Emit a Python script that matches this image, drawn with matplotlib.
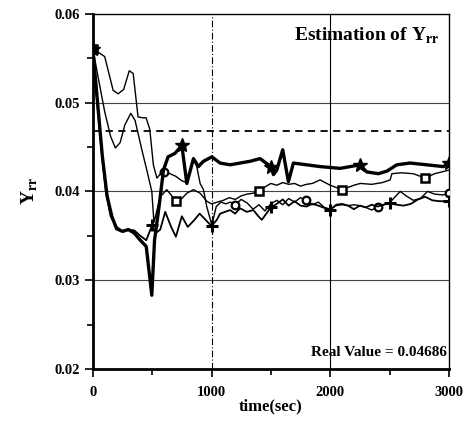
import matplotlib
matplotlib.use('Agg')
import matplotlib.pyplot as plt
from matplotlib.ticker import MultipleLocator

plt.rcParams['font.family'] = ['Liberation Serif', 'DejaVu Serif']
plt.rcParams['mathtext.fontset'] = 'custom'
plt.rcParams['mathtext.rm'] = 'Liberation Serif'
plt.rcParams['mathtext.bf'] = 'Liberation Serif:bold'

REAL_VALUE = 0.04686

# thick run with star markers
t_star = [0, 40, 80, 120, 160, 200, 250, 300, 350, 400, 450, 497, 520, 560, 595,
          634, 693, 750, 792, 848, 890, 932, 1003, 1072, 1157, 1241, 1326, 1409,
          1500, 1522, 1550, 1600, 1648, 1690, 1803, 1915, 2000, 2083, 2168, 2250,
          2308, 2406, 2480, 2561, 2673, 2814, 2954, 3000]
y_star = [0.0561, 0.0500, 0.0440, 0.0395, 0.0372, 0.0358, 0.0355, 0.0357, 0.0353,
          0.0345, 0.0338, 0.0283, 0.0345, 0.0385, 0.0424, 0.0439, 0.0443, 0.0452,
          0.0409, 0.0437, 0.0428, 0.0434, 0.0439, 0.0432, 0.0430, 0.0432, 0.0434,
          0.0437, 0.0428, 0.0419, 0.0424, 0.0447, 0.0411, 0.0432, 0.0430, 0.0428,
          0.0427, 0.0426, 0.0428, 0.0430, 0.0422, 0.0420, 0.0423, 0.0430, 0.0432,
          0.0430, 0.0428, 0.0432]
star_marks = [0, 750, 1500, 2250, 3000]

# run with plus markers
t_plus = [0, 30, 70, 110, 150, 200, 250, 300, 350, 400, 450, 500, 530, 568, 610,
          660, 700, 750, 800, 850, 900, 950, 1000, 1045, 1073, 1115, 1157, 1199,
          1241, 1297, 1353, 1395, 1424, 1500, 1550, 1600, 1650, 1700, 1750, 1800,
          1850, 1900, 2000, 2050, 2100, 2150, 2200, 2250, 2300, 2350, 2400, 2450,
          2500, 2560, 2620, 2680, 2740, 2800, 2860, 2920, 3000]
y_plus = [0.0561, 0.0510, 0.0450, 0.0400, 0.0372, 0.0360, 0.0355, 0.0357, 0.0356,
          0.0350, 0.0345, 0.0362, 0.0353, 0.0357, 0.0377, 0.0360, 0.0349, 0.0372,
          0.0360, 0.0367, 0.0375, 0.0368, 0.0361, 0.0368, 0.0375, 0.0377, 0.0379,
          0.0375, 0.0381, 0.0377, 0.0379, 0.0372, 0.0368, 0.0382, 0.0386, 0.0391,
          0.0384, 0.0389, 0.0384, 0.0383, 0.0386, 0.0384, 0.0379, 0.0385, 0.0386,
          0.0384, 0.0380, 0.0384, 0.0382, 0.0385, 0.0383, 0.0385, 0.0387, 0.0385,
          0.0384, 0.0386, 0.0391, 0.0394, 0.0390, 0.0389, 0.0389]
plus_marks = [500, 1000, 1500, 2000, 2500, 3000]

# run with square markers
t_sq = [0, 50, 100, 150, 190, 230, 270, 320, 356, 413, 455, 497, 515, 568, 623,
        660, 700, 750, 792, 848, 904, 960, 1000, 1050, 1100, 1150, 1200, 1250,
        1300, 1350, 1400, 1450, 1500, 1550, 1600, 1650, 1700, 1750, 1800, 1850,
        1915, 2000, 2100, 2200, 2253, 2350, 2440, 2505, 2520, 2600, 2700, 2800,
        2880, 3000]
y_sq = [0.0561, 0.0525, 0.0490, 0.0462, 0.0449, 0.0455, 0.0475, 0.0488, 0.0480,
        0.0447, 0.0424, 0.0400, 0.0365, 0.0394, 0.0402, 0.0396, 0.0389, 0.0392,
        0.0398, 0.0402, 0.0398, 0.0389, 0.0386, 0.0388, 0.0390, 0.0393, 0.0391,
        0.0395, 0.0397, 0.0398, 0.0400, 0.0405, 0.0409, 0.0407, 0.0410, 0.0408,
        0.0409, 0.0406, 0.0408, 0.0409, 0.0413, 0.0407, 0.0402, 0.0407, 0.0409,
        0.0408, 0.0410, 0.0413, 0.0420, 0.0421, 0.0420, 0.0415, 0.0420, 0.0424]
sq_marks = [0, 700, 1400, 2100, 2800]

# run with circle markers
t_circ = [0, 100, 171, 213, 260, 307, 340, 381, 420, 449, 480, 510, 540, 570, 600,
          650, 700, 750, 792, 848, 876, 904, 932, 960, 1003, 1040, 1080, 1120,
          1160, 1200, 1250, 1300, 1350, 1400, 1450, 1500, 1550, 1600, 1650, 1700,
          1750, 1800, 1850, 1900, 1950, 2000, 2050, 2100, 2150, 2200, 2250, 2300,
          2350, 2400, 2450, 2500, 2540, 2590, 2640, 2700, 2760, 2820, 2880, 2950,
          3000]
y_circ = [0.0561, 0.0552, 0.0514, 0.0510, 0.0515, 0.0536, 0.0533, 0.0484, 0.0483,
          0.0483, 0.0470, 0.0430, 0.0415, 0.0420, 0.0422, 0.0420, 0.0417, 0.0412,
          0.0410, 0.0437, 0.0428, 0.0409, 0.0402, 0.0383, 0.0362, 0.0383, 0.0388,
          0.0386, 0.0388, 0.0385, 0.0391, 0.0387, 0.0380, 0.0385, 0.0378, 0.0386,
          0.0390, 0.0385, 0.0392, 0.0388, 0.0393, 0.0390, 0.0385, 0.0388, 0.0382,
          0.0380, 0.0384, 0.0385, 0.0384, 0.0385, 0.0384, 0.0382, 0.0379, 0.0383,
          0.0385, 0.0387, 0.0393, 0.0400, 0.0395, 0.0390, 0.0392, 0.0400, 0.0397,
          0.0396, 0.0398]
circ_marks = [0, 600, 1200, 1800, 2400, 3000]

x_ticks = [0, 1000, 2000, 3000]
y_ticks = [0.02, 0.03, 0.04, 0.05, 0.06]
y_tick_labels = ['0.02', '0.03', '0.04', '0.05', '0.06']

fig = plt.figure(figsize=(4.76, 4.24), dpi=100)
ax = fig.add_axes([0.195, 0.130, 0.748, 0.837])

# reference grid
for y in [0.03, 0.04, 0.05]:
    ax.axhline(y, color='#444444', lw=0.8, zorder=1)
ax.axvline(1000, color='black', lw=0.8, ls=(0, (6, 2, 1, 2)), zorder=1)
ax.axvline(2000, color='black', lw=0.8, zorder=1)
ax.axhline(REAL_VALUE, color='black', lw=1.3, ls=(0, (4, 3)), zorder=2)


def run(t, y, marks, lw, **mk):
    idx = [t.index(m) for m in marks]
    ax.plot(t, y, color='black', lw=lw, markevery=idx, zorder=3, **mk)


run(t_circ, y_circ, circ_marks, 1.0, marker='o', ms=5.5, mfc='white',
    mec='black', mew=1.6)
run(t_sq, y_sq, sq_marks, 1.0, marker='s', ms=6, mfc='white',
    mec='black', mew=1.8)
run(t_plus, y_plus, plus_marks, 1.3, marker='+', ms=9, mew=2.2)
run(t_star, y_star, star_marks, 2.4, marker='*', ms=10, mfc='black',
    mec='black')

ax.set_xlim(0, 3000)
ax.set_ylim(0.02, 0.06)
ax.set_xticks(x_ticks)
ax.set_yticks(y_ticks)
ax.set_yticklabels(y_tick_labels)
ax.xaxis.set_minor_locator(MultipleLocator(500))
ax.yaxis.set_minor_locator(MultipleLocator(0.005))
ax.tick_params(which='both', direction='out', width=1.2, labelsize=10.5)
ax.tick_params(which='major', length=6)
ax.tick_params(which='minor', length=4)
ax.tick_params(axis='x', pad=6)
for lab in ax.get_xticklabels() + ax.get_yticklabels():
    lab.set_fontweight('bold')

ax.spines['left'].set_linewidth(2.0)
ax.spines['bottom'].set_linewidth(2.0)
ax.spines['top'].set_linewidth(1.0)
ax.spines['right'].set_linewidth(1.0)

ax.text(2920, 0.0575, r'Estimation of Y$_{\mathbf{rr}}$', ha='right', va='center',
        fontsize=14, fontweight='bold')
ax.text(2985, 0.0218, 'Real Value = 0.04686', ha='right', va='center',
        fontsize=11, fontweight='bold')
ax.set_xlabel('time(sec)', fontsize=12, fontweight='bold', labelpad=0)
ax.set_ylabel(r'Y$_{\mathbf{rr}}$', fontsize=14, fontweight='bold', labelpad=10)

fig.savefig('out.png', dpi=100)
